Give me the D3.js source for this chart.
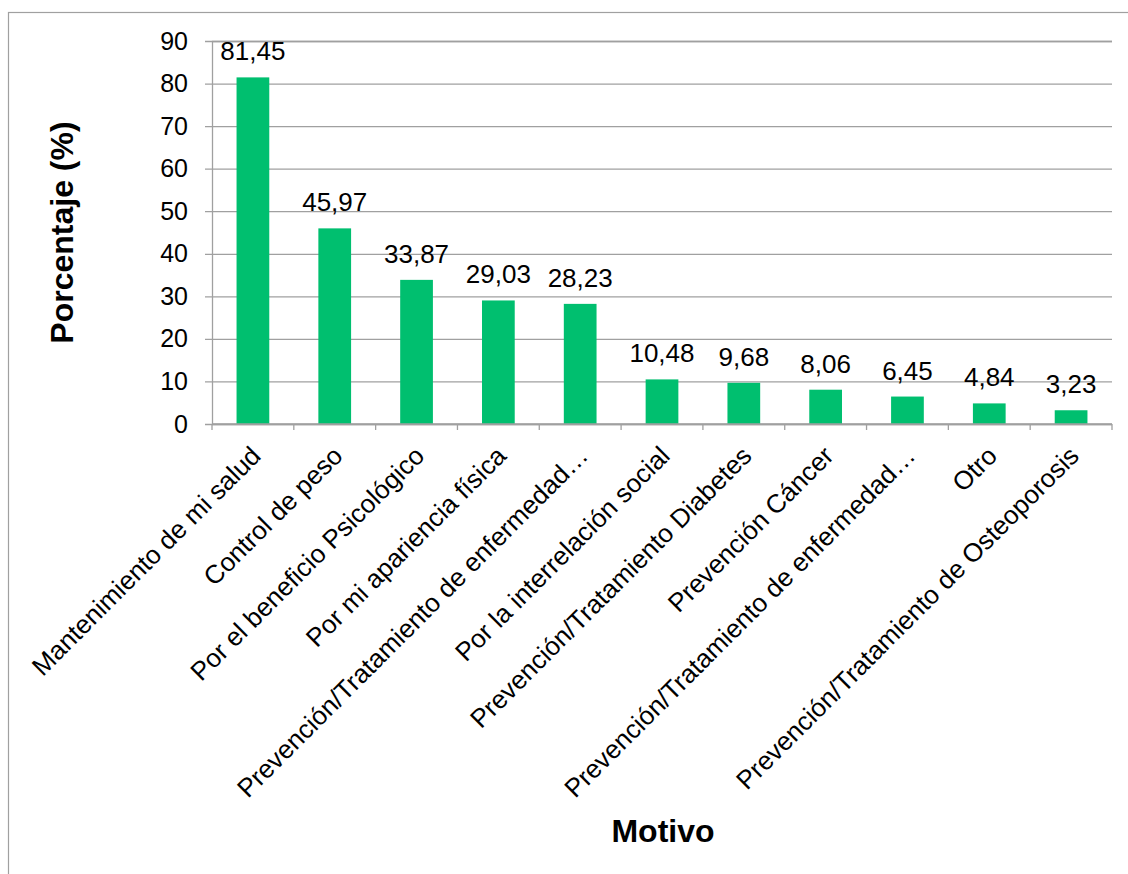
<!DOCTYPE html>
<html>
<head>
<meta charset="utf-8">
<script src="https://cdn.jsdelivr.net/npm/d3@7"></script>
<style>
  html, body { margin: 0; padding: 0; background: #fff; }
  svg { display: block; font-family: Arial, "Liberation Sans", sans-serif; }
</style>
</head>
<body>
<svg id="chart" width="1128" height="874"></svg>
<script>
// Motivos para hacer ejercicio (porcentaje de respuestas)
const categories = [
  "Mantenimiento de mi salud",
  "Control de peso",
  "Por el beneficio Psicológico",
  "Por mi apariencia física",
  "Prevención/Tratamiento de enfermedad…",
  "Por la interrelación social",
  "Prevención/Tratamiento Diabetes",
  "Prevención Cáncer",
  "Prevención/Tratamiento de enfermedad…",
  "Otro",
  "Prevención/Tratamiento de Osteoporosis"
];
const values = [81.45, 45.97, 33.87, 29.03, 28.23, 10.48, 9.68, 8.06, 6.45, 4.84, 3.23];
const yTicks = [0, 10, 20, 30, 40, 50, 60, 70, 80, 90];
const yTitle = "Porcentaje (%)";
const xTitle = "Motivo";

const svg = d3.select("#chart");
const W = 1128, H = 874;
const plot = { left: 212, right: 1112, top: 41, bottom: 424 };
const axisColor = "#a0a0a0";

// outer chart frame
svg.append("rect")
  .attr("x", 8.5).attr("y", 12.5)
  .attr("width", W + 20).attr("height", H + 20)
  .attr("fill", "none").attr("stroke", axisColor).attr("stroke-width", 1.2);

const x = d3.scaleBand()
  .domain(d3.range(categories.length))
  .range([plot.left, plot.right])
  .paddingInner(0.6).paddingOuter(0.3);

const xTick = d3.scaleBand()
  .domain(d3.range(categories.length))
  .range([plot.left, plot.right]);

const y = d3.scaleLinear().domain([0, 90]).range([plot.bottom, plot.top]);

// horizontal gridlines + y axis ticks
const yAxis = d3.axisLeft(y)
  .tickValues(yTicks)
  .tickSize(-(plot.right - plot.left))
  .tickPadding(24)
  .tickFormat(d3.format("d"));

const gy = svg.append("g")
  .attr("transform", `translate(${plot.left},0)`)
  .call(yAxis);
gy.select(".domain").attr("stroke", axisColor).attr("stroke-width", 1.3);
gy.selectAll(".tick line")
  .attr("stroke", axisColor).attr("stroke-width", 1.3)
  .attr("x1", -7);
gy.selectAll(".tick text")
  .attr("font-size", 25).attr("fill", "#000")
  .attr("font-family", "Arial, 'Liberation Sans', sans-serif");

// bars
svg.append("g").selectAll("rect")
  .data(values)
  .join("rect")
  .attr("x", (d, i) => x(i))
  .attr("width", x.bandwidth())
  .attr("y", d => y(d))
  .attr("height", d => y(0) - y(d))
  .attr("fill", "#00bf6f");

// value labels
const fmt = d => d.toFixed(2).replace(".", ",");
svg.append("g").selectAll("text")
  .data(values)
  .join("text")
  .attr("x", (d, i) => x(i) + x.bandwidth() / 2)
  .attr("y", d => y(d) - 17)
  .attr("text-anchor", "middle")
  .attr("font-size", 26)
  .attr("fill", "#000")
  .text(fmt);

// category axis line with tick marks on band boundaries
const gx = svg.append("g")
  .attr("transform", `translate(0,${plot.bottom})`);
gx.append("path")
  .attr("d", `M${plot.left},0H${plot.right}`)
  .attr("stroke", axisColor).attr("stroke-width", 1.3).attr("fill", "none");
gx.selectAll("line.bound")
  .data(d3.range(categories.length + 1))
  .join("line")
  .attr("class", "bound")
  .attr("x1", i => plot.left + i * xTick.step())
  .attr("x2", i => plot.left + i * xTick.step())
  .attr("y1", 0).attr("y2", 6)
  .attr("stroke", axisColor).attr("stroke-width", 1.3);

// rotated category labels
svg.append("g").selectAll("text")
  .data(categories)
  .join("text")
  .attr("transform", (d, i) =>
    `translate(${xTick(i) + xTick.bandwidth() / 2 + 3},${plot.bottom + 27}) rotate(-45)`)
  .attr("text-anchor", "end")
  .attr("dy", "0.35em")
  .attr("font-size", 26)
  .attr("fill", "#000")
  .text(d => d);

// axis titles
svg.append("text")
  .attr("transform", `translate(73,${(plot.top + plot.bottom) / 2}) rotate(-90)`)
  .attr("text-anchor", "middle")
  .attr("font-size", 32)
  .attr("font-weight", "bold")
  .attr("fill", "#000")
  .text(yTitle);

svg.append("text")
  .attr("x", 663)
  .attr("y", 842)
  .attr("text-anchor", "middle")
  .attr("font-size", 32)
  .attr("font-weight", "bold")
  .attr("fill", "#000")
  .text(xTitle);
</script>
</body>
</html>
